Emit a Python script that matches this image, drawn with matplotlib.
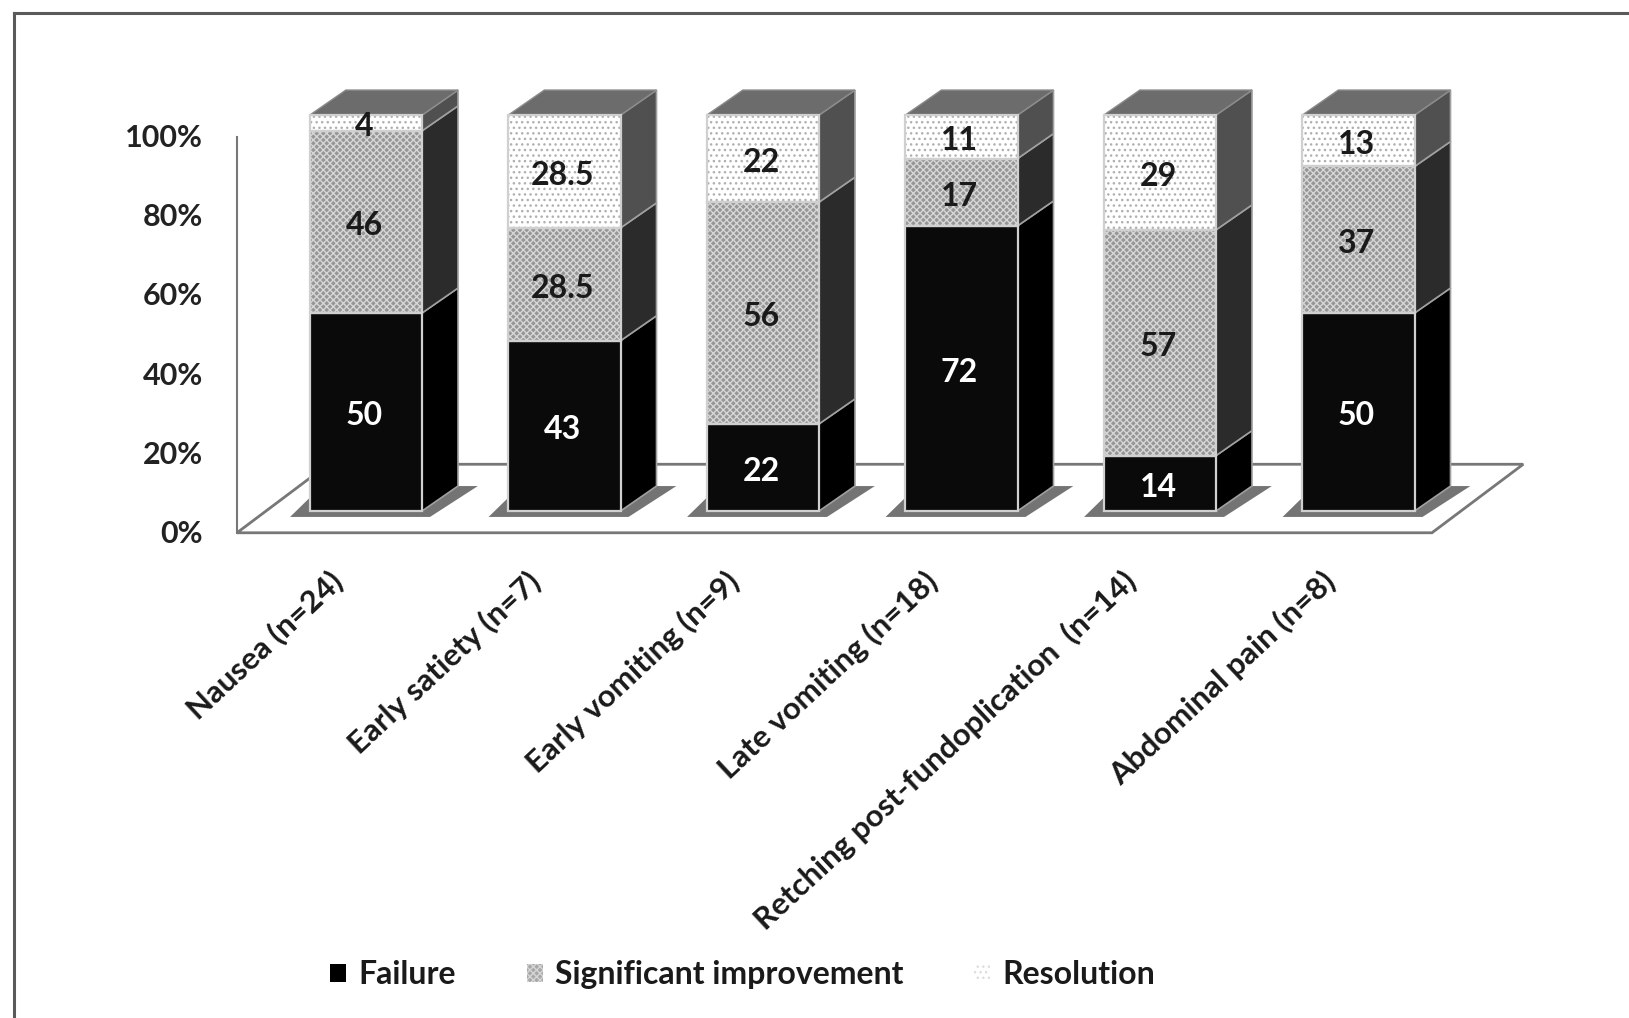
import numpy as np
import matplotlib
matplotlib.use('Agg')
import matplotlib.pyplot as plt
from matplotlib.patches import Polygon, Patch

categories = ['Nausea (n=24)', 'Early satiety (n=7)', 'Early vomiting (n=9)',
              'Late vomiting (n=18)', 'Retching post-fundoplication  (n=14)',
              'Abdominal pain (n=8)']
failure = [50, 43, 22, 72, 14, 50]
improvement = [46, 28.5, 56, 17, 57, 37]
resolution = [4, 28.5, 22, 11, 29, 13]
failure_text = ['50', '43', '22', '72', '14', '50']
improvement_text = ['46', '28.5', '56', '17', '57', '37']
resolution_text = ['4', '28.5', '22', '11', '29', '13']
y_ticks = [0, 20, 40, 60, 80, 100]

plt.rcParams['font.family'] = ['Lato', 'DejaVu Sans']
plt.rcParams['font.weight'] = 'bold'
plt.rcParams['hatch.linewidth'] = 1.0

W, H = 1629, 1018
fig = plt.figure(figsize=(W / 100, H / 100), dpi=100)
ax = fig.add_axes([0, 0, 1, 1])

# axes spans the figure; x is category index, y is percent
ux, uy = 198.5, 3.96
x0, y0 = 366, 511
ax.set_xlim(-x0 / ux, (W - x0) / ux)
ax.set_ylim((y0 - H) / uy, y0 / uy)
ax.axis('off')

bar_w = 0.565
dx, dy = 0.181, 6.3     # depth of the fake 3d offset
floor = -5.5            # front edge of the floor

# frame around the chart
ax.plot([-x0 / ux + 14 / ux] * 2, [(y0 - H) / uy, (y0 - 13) / uy], color='#5a5a5a', lw=2.2)
ax.plot([-x0 / ux + 14 / ux, (W - x0) / ux], [(y0 - 13) / uy] * 2, color='#5a5a5a', lw=2.2)

# floor and back wall edge
floor_pts = [(-0.65, floor), (5.37, floor), (5.83, 11.8), (-0.19, 11.8)]
ax.add_patch(Polygon(floor_pts, closed=True, fc='white', ec='#777777', lw=2, zorder=1))
ax.plot([-0.65, -0.65], [floor, floor + 100], color='#777777', lw=1.5, zorder=1)

for t in y_ticks:
    ax.text(-0.82, t + floor - 0.3, f'{t}%', ha='right', va='center', fontsize=22, color='#222222')

layers = [
    (failure, '#0a0a0a', 'black', None, None),
    (improvement, '#969696', '#2b2b2b', '#d6d6d6', 'xxxxx'),
    (resolution, 'white', '#505050', '#b0b0b0', '...'),
]

x = np.arange(len(categories))

# shadow cast on the floor at each bar base
for xi in x:
    l, r = xi - bar_w / 2, xi + bar_w / 2
    sx = [l - 0.1, r + 0.04, r + dx + 0.1, r + dx, r, l, l]
    sy = [-1.5, -1.5, dy, dy, 0, 0, 3.4]
    ax.add_patch(Polygon(list(zip(sx, sy)), closed=True, fc='#747474', ec='none', zorder=2))

bottom = np.zeros(len(categories))
for values, face, side, hatch_col, hatch in layers:
    values = np.array(values, dtype=float)
    ax.bar(x, values, bar_w, bottom=bottom, color=face, edgecolor=hatch_col or 'black',
           hatch=hatch, lw=0, zorder=4)
    # thin light outline over the hatched face
    ax.bar(x, values, bar_w, bottom=bottom, fill=False, edgecolor='#d0d0d0', lw=1.6, zorder=5)
    # side face of each segment
    for xi, b, v in zip(x, bottom, values):
        r = xi + bar_w / 2
        pts = [(r, b), (r + dx, b + dy), (r + dx, b + v + dy), (r, b + v)]
        ax.add_patch(Polygon(pts, closed=True, fc=side, ec='#a0a0a0', lw=1.2, zorder=3))
    bottom += values

# top face
for xi, top in zip(x, bottom):
    l, r = xi - bar_w / 2, xi + bar_w / 2
    pts = [(l, top), (r, top), (r + dx, top + dy), (l + dx, top + dy)]
    ax.add_patch(Polygon(pts, closed=True, fc='#6c6c6c', ec='#8a8a8a', lw=1, zorder=3))

# value labels in the middle of each segment
lower = np.zeros(len(categories))
for values, texts, col in [(failure, failure_text, 'white'),
                           (improvement, improvement_text, '#1a1a1a'),
                           (resolution, resolution_text, '#1a1a1a')]:
    for xi, b, v, s in zip(x, lower, values, texts):
        ax.text(xi - 0.01, b + v / 2 - 1.0, s, ha='center', va='center', fontsize=23, color=col, zorder=6)
    lower += np.array(values, dtype=float)

# slanted category names
for xi, name in zip(x, categories):
    ax.text(xi - 0.19, -14, name, rotation=43, rotation_mode='anchor', ha='right', va='top',
            fontsize=22.5, color='#1a1a1a')

handles = [Patch(fc='black', ec='none'),
           Patch(fc='#a8a8a8', ec='#d6d6d6', hatch='xxxxx', lw=0),
           Patch(fc='white', ec='#dddddd', hatch='...', lw=0)]
ax.legend(handles, ['Failure', 'Significant improvement', 'Resolution'], ncol=3, frameon=False,
          loc='center', bbox_to_anchor=(0.456, 0.0425), bbox_transform=fig.transFigure,
          fontsize=23, handlelength=0.5, handleheight=0.5, handletextpad=0.4,
          columnspacing=2.2, labelcolor='#1a1a1a')

fig.savefig('out.png', dpi=100, facecolor='white')
